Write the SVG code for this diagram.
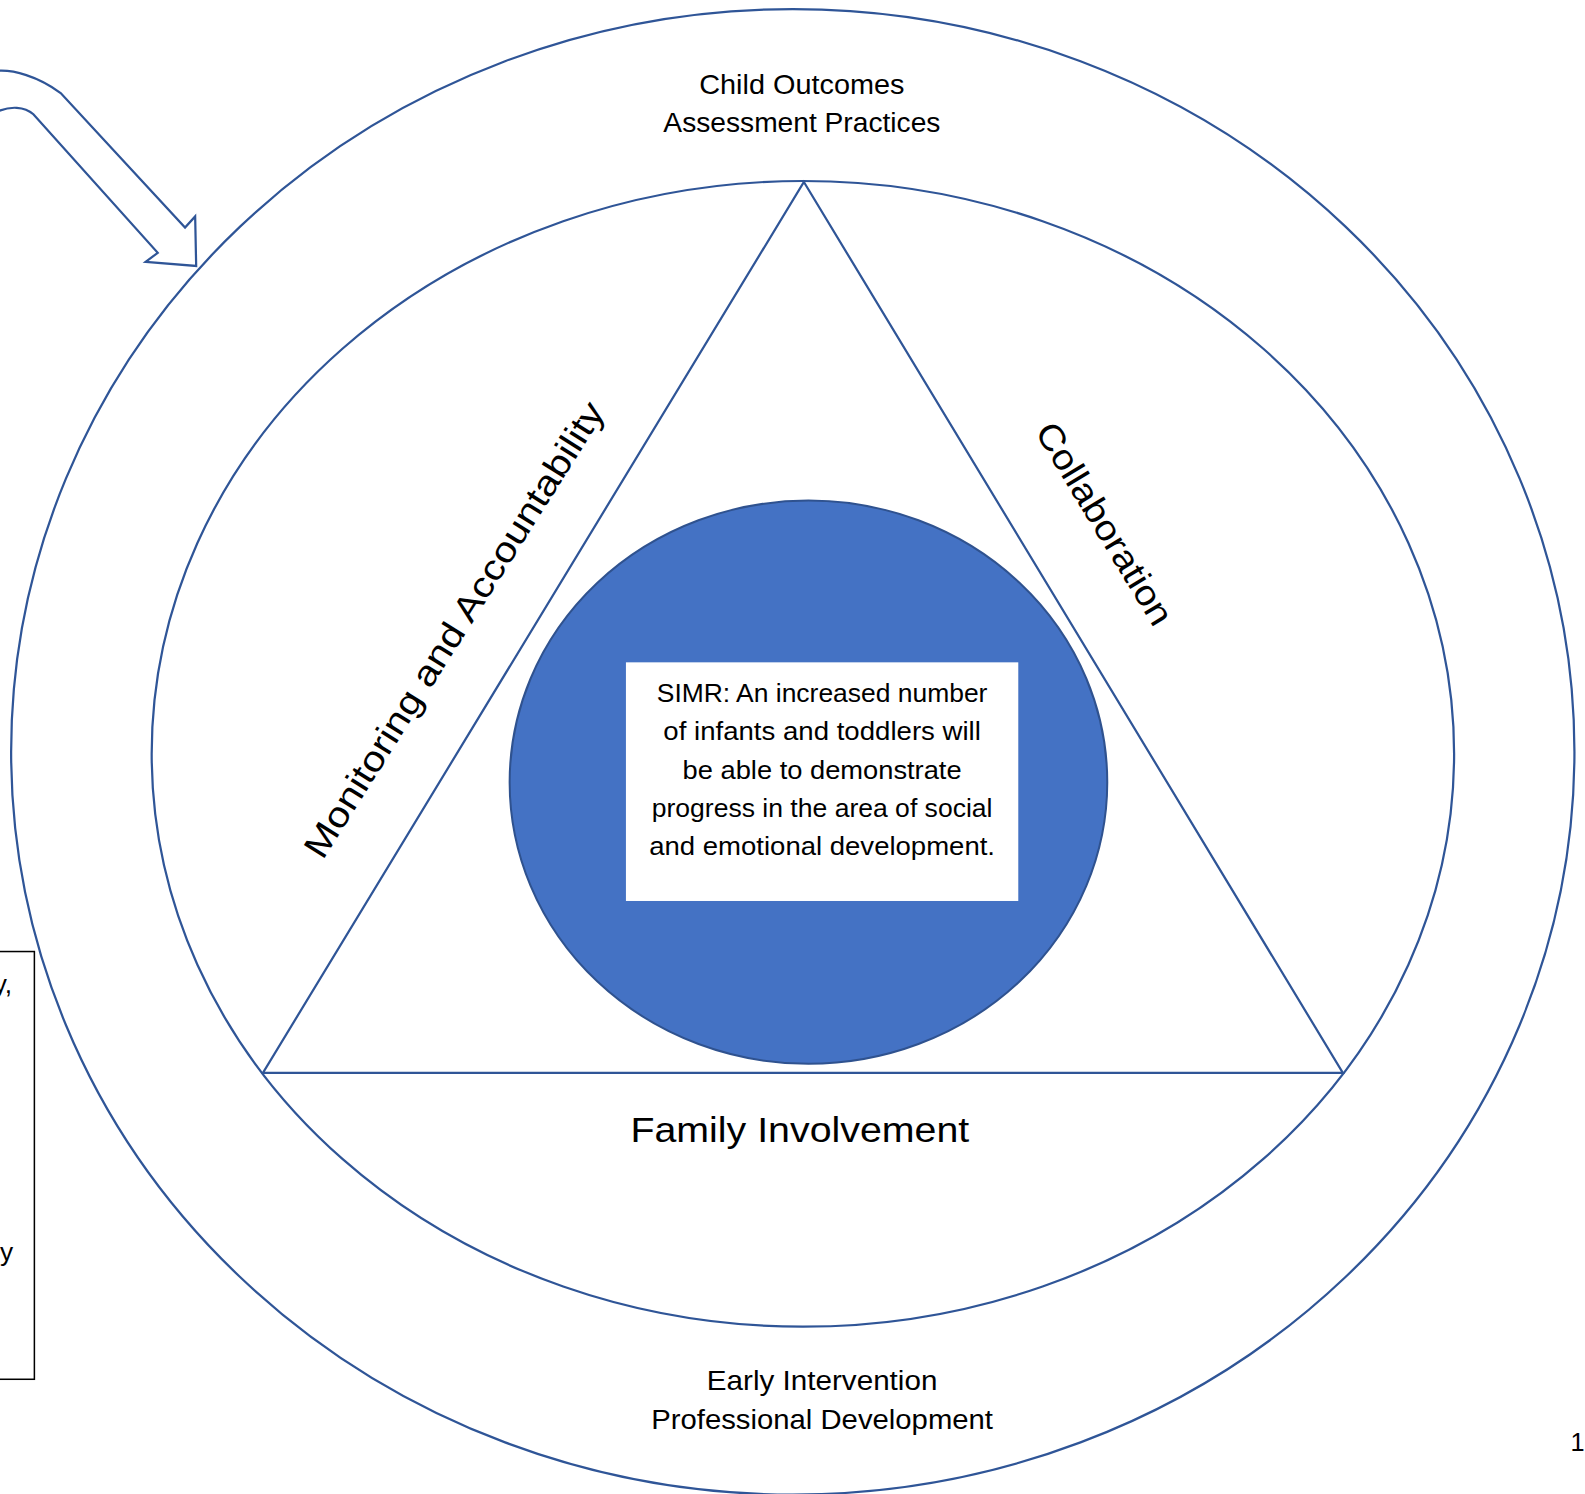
<svg xmlns="http://www.w3.org/2000/svg" width="1585" height="1494" viewBox="0 0 1585 1494">
<style>
.ln{fill:none;stroke:#2F5597;stroke-width:2.2}
.t{font-family:"Liberation Sans",Arial,sans-serif;fill:#000}
</style>
<rect width="1585" height="1494" fill="#fff"/>
<g transform="scale(1.0112)">
<g id="left-box">
<rect x="-10" y="941" width="44" height="423" fill="none" stroke="#000" stroke-width="1.5"/>
<text class="t" x="12" y="982" font-size="26" text-anchor="end">y,</text>
<text class="t" x="13" y="1247" font-size="26" text-anchor="end">y</text>
</g>
<g id="outer-ring">
<ellipse class="ln" cx="784" cy="743.5" rx="773" ry="734.5"/>
<text class="t" x="793" y="93" font-size="27" text-anchor="middle" textLength="203" lengthAdjust="spacingAndGlyphs">Child Outcomes</text>
<text class="t" x="793" y="131" font-size="27" text-anchor="middle" textLength="274" lengthAdjust="spacingAndGlyphs">Assessment Practices</text>
<text class="t" x="813" y="1375" font-size="27" text-anchor="middle" textLength="228" lengthAdjust="spacingAndGlyphs">Early Intervention</text>
<text class="t" x="813" y="1413" font-size="27" text-anchor="middle" textLength="338" lengthAdjust="spacingAndGlyphs">Professional Development</text>
</g>
<g id="inner-ring">
<ellipse class="ln" cx="794" cy="745.5" rx="644" ry="566.5"/>
</g>
<g id="triangle">
<polygon class="ln" points="795,180 1328,1061 260,1061"/>
<text class="t" x="791" y="1129" font-size="35" text-anchor="middle" textLength="335" lengthAdjust="spacingAndGlyphs">Family Involvement</text>
<text class="t" font-size="35" text-anchor="middle" textLength="525" lengthAdjust="spacingAndGlyphs" transform="translate(459,629) rotate(-57.8)">Monitoring and Accountability</text>
<text class="t" font-size="35" text-anchor="middle" textLength="228" lengthAdjust="spacingAndGlyphs" transform="translate(1082,524) rotate(58.7)">Collaboration</text>
</g>
<g id="simr">
<ellipse cx="799.5" cy="773.5" rx="295.5" ry="278.5" fill="#4472C4" stroke="#2F528F" stroke-width="2"/>
<rect x="619" y="655" width="388" height="236" fill="#fff"/>
<text class="t" x="813" y="694" font-size="25" text-anchor="middle" textLength="327" lengthAdjust="spacingAndGlyphs">SIMR: An increased number</text>
<text class="t" x="813" y="732" font-size="25" text-anchor="middle" textLength="314" lengthAdjust="spacingAndGlyphs">of infants and toddlers will</text>
<text class="t" x="813" y="770" font-size="25" text-anchor="middle" textLength="276" lengthAdjust="spacingAndGlyphs">be able to demonstrate</text>
<text class="t" x="813" y="808" font-size="25" text-anchor="middle" textLength="337" lengthAdjust="spacingAndGlyphs">progress in the area of social</text>
<text class="t" x="813" y="846" font-size="25" text-anchor="middle" textLength="342" lengthAdjust="spacingAndGlyphs">and emotional development.</text>
</g>
<g id="connectors">
<path class="ln" stroke-linejoin="miter" d="M-2,70 C 13,69 37,75 60,92 L183,225 L193,214 L194,263 L144,259 L156,250 L33,113 C 24,105 10,105 -2,110"/>
</g>
<g id="page-number">
<text class="t" x="1553" y="1435" font-size="25">1</text>
</g>
</g>
</svg>
